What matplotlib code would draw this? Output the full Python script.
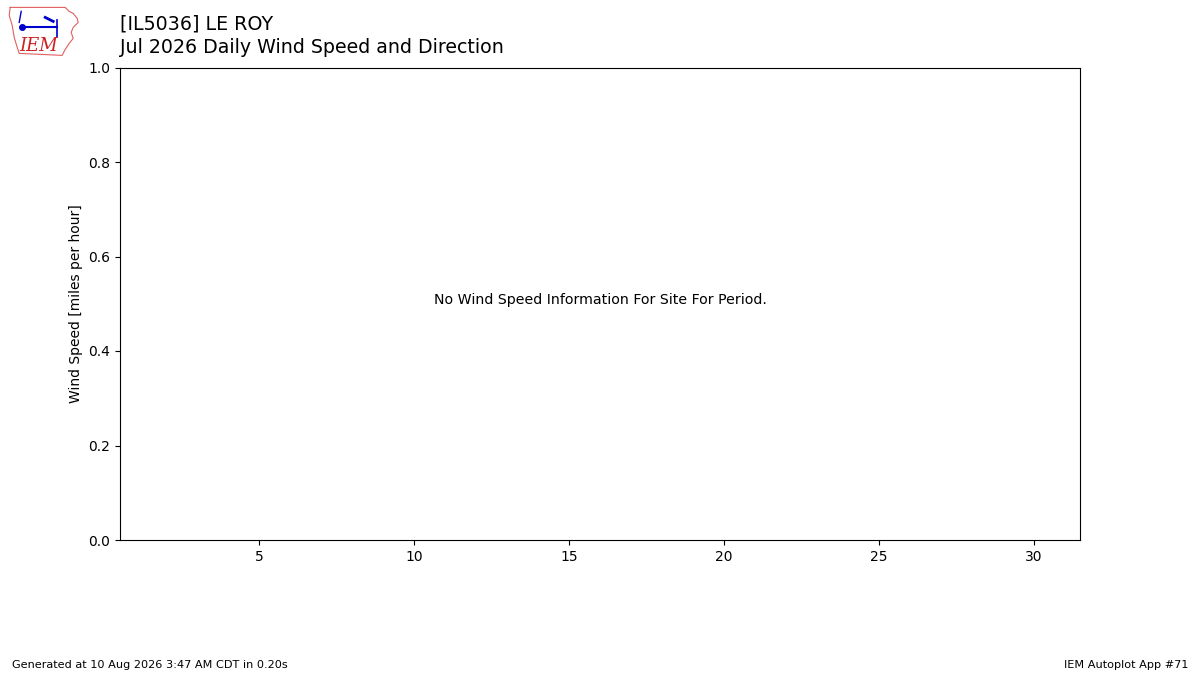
# Daily wind speed and direction - empty period
import numpy as np
import matplotlib
matplotlib.use('Agg')
import matplotlib.pyplot as plt

# Chart text / data
station = '[IL5036] LE ROY'
subtitle = 'Jul 2026 Daily Wind Speed and Direction'
ylabel = 'Wind Speed [miles per hour]'
message = 'No Wind Speed Information For Site For Period.'
footer_left = 'Generated at 10 Aug 2026 3:47 AM CDT in 0.20s'
footer_right = 'IEM Autoplot App #71'
xticks = [5, 10, 15, 20, 25, 30]
days_in_month = 31

fig = plt.figure(figsize=(12, 6.75), dpi=100)

# Main axes
ax = fig.add_axes([0.1, 0.2, 0.8, 0.7])
ax.set_xlim(0.5, days_in_month + 0.5)
ax.set_ylim(0, 1)
ax.set_xticks(xticks)
ax.set_ylabel(ylabel)
ax.text(0.5, 0.5, message, ha='center', fontsize=10.2, transform=ax.transAxes)

# Titles
fig.text(0.1, 0.965, station, fontsize=13.7, va='center')
fig.text(0.1, 0.929, subtitle, fontsize=13.7, va='center')

# Footer
fig.text(0.01, 0.015, footer_left, fontsize=8.15, va='center')
fig.text(0.99, 0.015, footer_right, fontsize=8.15, va='center', ha='right')

# Simple IEM logo
lax = fig.add_axes([0.006, 0.915, 0.06, 0.077])
lax.set_xlim(0, 72)
lax.set_ylim(52, 0)
lax.axis('off')
outline_x = [3, 58, 62, 66, 70, 71, 66, 64, 66, 62, 58, 55, 12, 10, 7, 5, 2, 3]
outline_y = [2, 2, 6, 8, 13, 17, 22, 27, 33, 38, 44, 50, 48, 42, 32, 20, 10, 2]
lax.plot(outline_x, outline_y, color='#e06060', lw=0.8)
lax.plot([15, 50], [22, 22], color='#0000cc', lw=1.5)
lax.plot([15], [22], 'o', color='#0000cc', ms=4)
lax.plot([50, 50], [15, 32], color='#0000cc', lw=1.2)
lax.plot([14, 12], [6, 17], color='#0000cc', lw=1.0)
lax.plot([38, 46], [12, 16], color='#0000cc', lw=2.0)
lax.text(12, 46, 'IEM', color='#cc2222', fontsize=13, family='DejaVu Serif',
         style='italic')

fig.savefig('out.png', dpi=100)
